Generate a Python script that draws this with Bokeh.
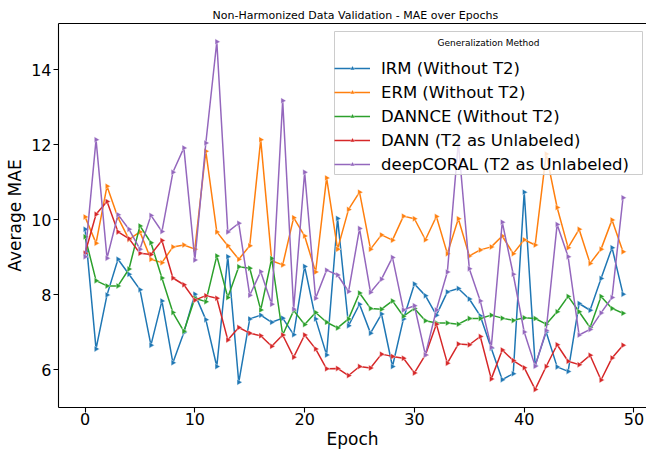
import math
from bokeh.plotting import figure
from bokeh.models import (Range1d, FixedTicker, LinearAxis, Legend, LegendItem,
                          ColumnDataSource, Label, BoxAnnotation)
from bokeh.embed import file_html
from bokeh.resources import INLINE

epochs = list(range(50))

irm = [9.74, 6.55, 7.99, 8.94, 8.54, 8.13, 6.65, 7.83, 6.18, 6.99,
       8.01, 7.33, 6.08, 9.01, 5.66, 7.35, 7.45, 7.26, 7.37, 6.93,
       8.75, 7.35, 6.39, 10.03, 7.17, 7.74, 6.97, 7.48, 6.08, 7.35,
       8.28, 7.97, 7.45, 8.07, 8.16, 7.88, 7.43, 6.57, 5.73, 5.89,
       10.73, 6.11, 7.00, 6.07, 5.95, 7.76, 7.58, 8.43, 9.25, 8.01]

erm = [10.07, 9.37, 10.89, 10.05, 9.47, 9.67, 8.94, 8.85, 9.27, 9.32,
       9.21, 11.82, 9.67, 9.30, 8.94, 9.30, 12.13, 8.90, 8.79, 10.05,
       9.56, 8.60, 11.11, 9.21, 10.27, 10.73, 9.21, 9.59, 9.45, 10.09,
       10.02, 9.46, 10.08, 9.09, 10.02, 9.03, 9.19, 9.27, 9.56, 9.09,
       9.46, 9.32, 11.75, 10.32, 9.25, 9.74, 8.83, 9.21, 9.99, 9.14]

dannce = [9.54, 8.37, 8.23, 8.23, 8.68, 9.83, 9.38, 8.44, 7.52, 7.02,
          7.90, 7.81, 9.03, 7.92, 8.74, 8.70, 7.59, 8.96, 6.92, 7.57,
          7.20, 7.52, 7.26, 7.11, 7.35, 8.04, 7.63, 7.61, 7.83, 7.42,
          7.63, 7.30, 7.24, 7.24, 7.21, 7.36, 7.36, 7.45, 7.37, 7.31,
          7.38, 7.36, 7.21, 7.54, 7.95, 7.54, 7.12, 7.95, 7.63, 7.50]

dann = [9.10, 10.14, 10.48, 9.67, 9.49, 9.10, 9.07, 9.44, 8.44, 8.26,
        7.85, 7.97, 7.90, 6.79, 7.12, 6.97, 6.90, 6.62, 6.92, 6.33,
        6.92, 6.55, 6.02, 6.03, 5.84, 6.08, 6.04, 6.41, 6.35, 6.30,
        5.91, 6.39, 7.21, 6.17, 6.68, 6.66, 6.88, 5.75, 6.52, 6.24,
        6.05, 5.47, 6.08, 6.66, 6.22, 6.13, 6.38, 5.72, 6.31, 6.65]

deepcoral = [9.01, 12.13, 8.97, 10.13, 9.74, 9.21, 10.11, 9.68, 11.26, 11.91,
             8.92, 12.04, 14.74, 9.67, 9.90, 7.98, 8.61, 7.74, 13.17, 7.61,
             11.26, 7.90, 8.65, 8.52, 8.08, 9.76, 8.06, 8.41, 8.99, 7.59,
             7.70, 6.39, 7.59, 8.60, 12.06, 8.69, 7.83, 6.59, 9.93, 8.54,
             7.00, 6.09, 7.04, 9.87, 9.01, 6.92, 7.07, 7.51, 7.92, 10.58]

series_names = ["IRM (Without T2)", "ERM (Without T2)", "DANNCE (Without T2)",
                "DANN (T2 as Unlabeled)", "deepCORAL (T2 as Unlabeled)"]
series_values = [irm, erm, dannce, dann, deepcoral]
colors = ["#1f77b4", "#ff7f0e", "#2ca02c", "#d62728", "#9467bd"]

x_ticks = [0, 10, 20, 30, 40, 50]
y_ticks = [6, 8, 10, 12, 14]

title_text = "Non-Harmonized Data Validation - MAE over Epochs"
x_label = "Epoch"
y_label = "Average MAE"
legend_title = "Generalization Method"

FONT = "DejaVu Sans"

p = figure(width=646, height=454, output_backend="svg", toolbar_location=None,
           x_range=Range1d(-2.42, 51.14), y_range=Range1d(4.987, 15.227),
           min_border_left=58, min_border_right=0, min_border_top=23, min_border_bottom=47)

p.title.text = title_text
p.title.text_font = FONT
p.title.text_font_size = "11px"
p.title.text_font_style = "normal"
p.title.text_color = "black"
p.title.align = "left"
p.title.offset = 154
p.title.standoff = 3

p.outline_line_color = None
p.background_fill_color = "white"
p.border_fill_color = "white"
p.xgrid.visible = False
p.ygrid.visible = False

p.xaxis.ticker = FixedTicker(ticks=x_ticks)
p.yaxis.ticker = FixedTicker(ticks=y_ticks)
p.xaxis.axis_label = x_label
p.yaxis.axis_label = y_label
for ax in (p.xaxis[0], p.yaxis[0]):
    ax.axis_label_text_font = FONT
    ax.axis_label_text_font_size = "17px"
    ax.axis_label_text_font_style = "normal"
    ax.axis_label_text_color = "black"
    ax.major_label_text_font = FONT
    ax.major_label_text_font_size = "16px"
    ax.major_label_text_color = "black"
    ax.axis_line_color = "black"
    ax.axis_line_width = 1.1
    ax.major_tick_line_color = "black"
    ax.major_tick_line_width = 1.1
    ax.major_tick_out = 5
    ax.major_tick_in = 0
    ax.minor_tick_line_color = None
p.xaxis.major_label_standoff = 0
p.xaxis.axis_label_standoff = 1
p.yaxis.major_label_standoff = 2
p.yaxis.axis_label_standoff = 3

top_axis = LinearAxis(ticker=FixedTicker(ticks=[]), axis_line_color="black",
                      axis_line_width=1.1, major_tick_line_color=None,
                      minor_tick_line_color=None, major_label_text_font_size="0px",
                      major_tick_out=0, major_tick_in=0, major_label_standoff=0)
p.add_layout(top_axis, "above")

items = []
for name, vals, col in zip(series_names, series_values, colors):
    src = ColumnDataSource(dict(x=epochs, y=vals))
    ln = p.line("x", "y", source=src, line_color=col, line_width=1.5)
    mk = p.scatter("x", "y", source=src, marker="triangle", size=6,
                   angle=-math.pi / 2, angle_units="rad", fill_color=col,
                   line_color="white", line_width=0.4)
    items.append(LegendItem(label=name, renderers=[ln, mk]))

# legend frame (screen units, relative to the plot frame: x from left, y from bottom)
legend_box = BoxAnnotation(left=276, right=584, bottom=233, top=376,
                           left_units="screen", right_units="screen",
                           bottom_units="screen", top_units="screen",
                           fill_color="white", fill_alpha=0.8,
                           line_color="#cccccc", line_width=1, line_alpha=1.0)
p.add_layout(legend_box)

legend = Legend(items=items, location=(276, 233))
legend.title = " "
legend.title_text_font = FONT
legend.title_text_font_size = "9px"
legend.title_standoff = 4
legend.label_text_font = FONT
legend.label_text_font_size = "16.5px"
legend.label_text_color = "black"
legend.glyph_width = 36
legend.glyph_height = 12
legend.label_height = 20
legend.label_standoff = 11
legend.spacing = 4
legend.padding = 6
legend.margin = 0
legend.border_line_color = None
legend.background_fill_alpha = 0.0
p.add_layout(legend, "center")

legend_title_label = Label(x=430, y=365, x_units="screen", y_units="screen",
                           text=legend_title, text_font=FONT, text_font_size="9px",
                           text_color="black", text_align="center",
                           text_baseline="middle")
p.add_layout(legend_title_label)

open("out.html", "w").write(file_html(p, INLINE))
